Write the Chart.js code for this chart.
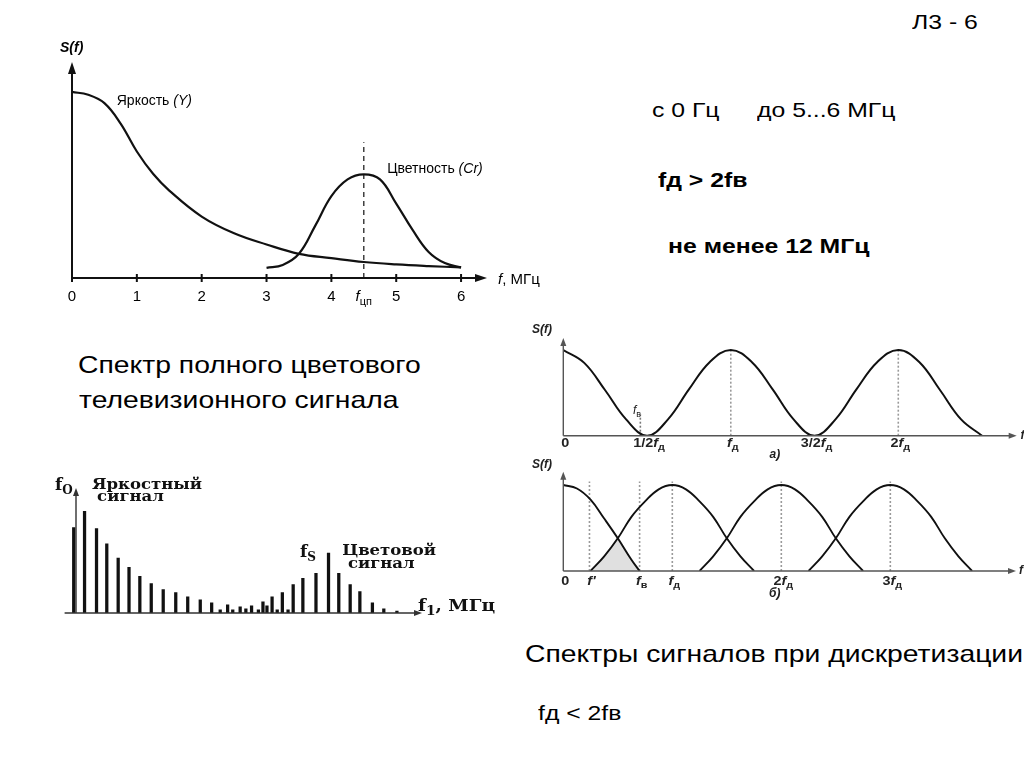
<!DOCTYPE html>
<html>
<head>
<meta charset="utf-8">
<script src="https://cdn.jsdelivr.net/npm/chart.js@4.4.0/dist/chart.umd.min.js"></script>
<style>
  body { margin: 0; width: 1024px; height: 768px; background: #fff; position: relative; overflow: hidden;
         font-family: "Liberation Sans", Arial, sans-serif; }
  canvas { position: absolute; }
  .t { position: absolute; white-space: nowrap; color: #000; line-height: 1; transform-origin: 0 0; transform: scaleX(1.18); }
  .b { font-weight: bold; }
</style>
</head>
<body>
<div class="t" style="left:912px;top:11px;font-size:21px">Л3 - 6</div>
<div class="t" style="left:652px;top:99px;font-size:21px">с 0 Гц</div>
<div class="t" style="left:757px;top:99px;font-size:21px">до 5...6 МГц</div>
<div class="t b" style="left:658px;top:169px;font-size:21px">fд &gt; 2fв</div>
<div class="t b" style="left:668px;top:235px;font-size:21px">не менее 12 МГц</div>
<div class="t" style="left:78px;top:353px;font-size:24px">Спектр полного цветового</div>
<div class="t" style="left:79px;top:388px;font-size:24px">телевизионного сигнала</div>
<div class="t" style="left:525px;top:642px;font-size:24px">Спектры сигналов при дискретизации</div>
<div class="t" style="left:538px;top:702px;font-size:21px">fд &lt; 2fв</div>

<canvas id="spec" width="540" height="330" style="left:0;top:0"></canvas>
<canvas id="lines" width="540" height="200" style="left:0;top:460px"></canvas>
<canvas id="sampA" width="504" height="160" style="left:520px;top:310px"></canvas>
<canvas id="sampB" width="504" height="150" style="left:520px;top:455px"></canvas>

<script>
// Спектр полного цветового ТВ-сигнала, МГц
const specFreq = [0, 0.25, 0.5, 0.75, 1, 1.25, 1.5, 2, 2.5, 3, 3.5, 4, 4.5, 5, 5.5, 6];
const lumaLevel = [1.0, 0.985, 0.94, 0.83, 0.68, 0.56, 0.47, 0.33, 0.24, 0.18, 0.13, 0.107, 0.086, 0.073, 0.064, 0.057];
const chromaFreq = [3, 3.25, 3.5, 3.75, 4, 4.25, 4.5, 4.75, 5, 5.25, 5.5, 5.75, 6];
const chromaLevel = [0.054, 0.07, 0.13, 0.28, 0.44, 0.53, 0.557, 0.53, 0.40, 0.26, 0.14, 0.08, 0.057];
const specTicks = [0, 1, 2, 3, 4, 4.5, 5, 6];
const specTickLabels = ['0', '1', '2', '3', '4', '*f*_цп', '5', '6'];
const subcarrierFreq = 4.5;
const subcarrierTop = 0.73;

// Линейчатый спектр (гармоники строчной частоты)
const lineFreq = [-0.04, 0.15, 0.36, 0.54, 0.74, 0.93, 1.12, 1.32, 1.53, 1.75, 1.96, 2.18, 2.38, 2.53, 2.66, 2.75,
  2.88, 2.98, 3.08, 3.20, 3.28, 3.35, 3.44, 3.53, 3.62, 3.72, 3.81, 3.98, 4.21, 4.43, 4.61, 4.81, 4.98, 5.20, 5.40, 5.63];
const lineAmp = [0.84, 1.0, 0.83, 0.68, 0.54, 0.45, 0.36, 0.29, 0.23, 0.20, 0.16, 0.13, 0.10, 0.03, 0.08, 0.03,
  0.06, 0.04, 0.07, 0.03, 0.11, 0.07, 0.16, 0.03, 0.20, 0.03, 0.28, 0.34, 0.39, 0.59, 0.39, 0.28, 0.21, 0.10, 0.04, 0.02];

// Дискретизация, а) fд > 2fв  (частота в долях fд)
const sampFreqA = [0, 0.125, 0.25, 0.375, 0.5, 0.625, 0.75, 0.875, 1, 1.125, 1.25, 1.375, 1.5, 1.625, 1.75, 1.875, 2, 2.125, 2.25, 2.375, 2.5];
const sampLevelA = [1, 0.85, 0.53, 0.19, 0, 0.19, 0.54, 0.86, 1, 0.86, 0.54, 0.19, 0, 0.19, 0.54, 0.86, 1, 0.86, 0.53, 0.19, 0];
const sampTicksA = [0, 0.5, 1, 1.5, 2];
const sampTickLabelsA = ['0', '1/2*f*_д', '*f*_д', '3/2*f*_д', '2*f*_д'];
const markFreqA = [1, 2];
const cutoffA = 0.46;

// Дискретизация, б) fд < 2fв
const humpFreqB0 = [0, 0.125, 0.25, 0.375, 0.5, 0.625, 0.7];
const humpLevelB0 = [1, 0.96, 0.83, 0.61, 0.38, 0.13, 0];
const humpFreqB1 = [0.25, 0.375, 0.5, 0.625, 0.75, 0.875, 1, 1.125, 1.25, 1.375, 1.5, 1.625, 1.75];
const humpFreqB2 = [1.25, 1.375, 1.5, 1.625, 1.75, 1.875, 2, 2.125, 2.25, 2.375, 2.5, 2.625, 2.75];
const humpFreqB3 = [2.25, 2.375, 2.5, 2.625, 2.75, 2.875, 3, 3.125, 3.25, 3.375, 3.5, 3.625, 3.75];
const humpLevelB = [0, 0.17, 0.38, 0.63, 0.81, 0.95, 1, 0.95, 0.81, 0.63, 0.38, 0.17, 0];
const overlapFreqB = [0.25, 0.375, 0.5, 0.625, 0.7];
const overlapLevelB = [0, 0.17, 0.38, 0.13, 0];
const sampTicksB = [0, 0.24, 0.7, 1, 2, 3];
const sampTickLabelsB = ['0', "*f'*", '*f*_в', '*f*_д', '2*f*_д', '3*f*_д'];
const markFreqB = [0.24, 0.7, 1, 2, 3];

const pts = (xs, ys) => xs.map((v, i) => ({ x: v, y: ys[i] }));
const vline = (v, top) => [{ x: v, y: 0 }, { x: v, y: top }];

// '*' — курсив, '_' — нижний индекс до пробела/запятой
function parseRich(text) {
  const parts = [];
  let it = false, sub = false, buf = '';
  const flush = () => { if (buf) parts.push({ t: buf, it, sub }); buf = ''; };
  for (const ch of text) {
    if (ch === '*') { flush(); it = !it; }
    else if (ch === '_') { flush(); sub = true; }
    else if (sub && (ch === ',' || ch === ' ')) { flush(); sub = false; buf = ch; }
    else buf += ch;
  }
  flush();
  return parts;
}

function drawRich(ctx, text, x, y, f) {
  const parts = parseRich(text);
  const fontOf = (p) => `${p.it || f.italic ? 'italic ' : ''}${f.weight || 'normal'} ${p.sub ? Math.round(f.size * 0.72) : f.size}px ${f.family}`;
  let w = 0;
  parts.forEach((p) => { ctx.font = fontOf(p); p.w = ctx.measureText(p.t).width; w += p.w; });
  let cx = f.align === 'left' ? 0 : -w / 2;
  ctx.save();
  ctx.translate(x, y);
  ctx.scale(f.sx || 1, 1);
  ctx.fillStyle = f.color || '#000';
  ctx.textBaseline = 'middle';
  ctx.textAlign = 'left';
  parts.forEach((p) => { ctx.font = fontOf(p); ctx.fillText(p.t, cx, p.sub ? f.size * 0.3 : 0); cx += p.w; });
  ctx.restore();
}

function arrow(ctx, x, y, dir, len, half) {
  ctx.beginPath();
  if (dir === 'right') { ctx.moveTo(x, y); ctx.lineTo(x - len, y - half); ctx.lineTo(x - len, y + half); }
  else { ctx.moveTo(x, y); ctx.lineTo(x - half, y + len); ctx.lineTo(x + half, y + len); }
  ctx.closePath();
  ctx.fill();
}

// Оси со стрелками, засечки и подписи по шкалам графика
const axesPlugin = {
  id: 'axes',
  afterDatasetsDraw(chart, args, o) {
    const { ctx, scales: { x, y } } = chart;
    const x0 = x.getPixelForValue(0), y0 = y.getPixelForValue(0);
    const xL = x.getPixelForValue(x.min), xR = x.getPixelForValue(x.max), yT = y.getPixelForValue(y.max);
    ctx.save();
    ctx.strokeStyle = o.color; ctx.fillStyle = o.color; ctx.lineWidth = o.width;
    ctx.beginPath();
    ctx.moveTo(xL, y0); ctx.lineTo(xR - o.arrow[0] + 1, y0);
    ctx.moveTo(x0, y0); ctx.lineTo(x0, yT + o.arrow[0] - 1);
    ctx.stroke();
    arrow(ctx, xR, y0, 'right', o.arrow[0], o.arrow[1]);
    arrow(ctx, x0, yT, 'up', o.arrow[0], o.arrow[1]);
    (o.ticks || []).forEach((v, i) => {
      const px = x.getPixelForValue(v);
      if (o.tickLen && Number.isInteger(v)) {
        ctx.beginPath(); ctx.moveTo(px, y0 - o.tickLen); ctx.lineTo(px, y0 + o.tickLen); ctx.stroke();
      }
      if (o.tickLabels) drawRich(ctx, o.tickLabels[i], px + (o.tickShift || 0), y0 + o.tickOffset, o.tickFont);
    });
    (o.labels || []).forEach((l) => drawRich(ctx, l.text, x.getPixelForValue(l.x), y.getPixelForValue(l.y), { ...o.font, ...l }));
    ctx.restore();
  }
};

function makeChart(id, datasets, xr, yr, padding, axes, type) {
  return new Chart(document.getElementById(id), {
    type: type || 'line',
    data: { datasets },
    options: {
      responsive: false,
      animation: false,
      layout: { padding },
      plugins: { legend: { display: false }, tooltip: { enabled: false }, axes },
      elements: { point: { radius: 0 }, line: { tension: 0.4 } },
      scales: {
        x: { type: 'linear', min: xr[0], max: xr[1], display: false, offset: false },
        y: { type: 'linear', min: yr[0], max: yr[1], display: false }
      }
    },
    plugins: [axesPlugin]
  });
}

const sans = '"Liberation Sans", Arial, sans-serif';
const serif = '"DejaVu Serif", "Liberation Serif", serif';
const curve = (data, w, c) => ({ data, borderColor: c || '#111', borderWidth: w, fill: false });
const dotted = (data, c) => ({ data, borderColor: c || '#9a9a9a', borderWidth: 1.6, borderDash: [2, 2], fill: false, tension: 0 });

// 1. Спектр полного цветового сигнала
makeChart('spec', [
  curve(pts(specFreq, lumaLevel), 2.2),
  curve(pts(chromaFreq, chromaLevel), 2.2),
  { data: vline(subcarrierFreq, subcarrierTop), borderColor: '#222', borderWidth: 1.3, borderDash: [5, 4], tension: 0 }
], [0, 6.4], [0, 1.161], { left: 72, right: 53, top: 62, bottom: 52 }, {
  color: '#111', width: 2, arrow: [12, 4], ticks: specTicks, tickLabels: specTickLabels, tickLen: 4, tickOffset: 19,
  tickFont: { size: 15, family: sans },
  font: { size: 14, family: sans, align: 'left' },
  labels: [
    { x: -0.185, y: 1.235, text: '*S(f)*', weight: 'bold' },
    { x: 6.57, y: -0.011, text: '*f*, МГц', size: 15 },
    { x: 0.69, y: 0.953, text: 'Яркость *(Y)*' },
    { x: 4.86, y: 0.584, text: 'Цветность *(Cr)*' }
  ]
});

// 2. Линейчатый спектр
makeChart('lines', [
  { type: 'bar', data: pts(lineFreq, lineAmp), backgroundColor: '#111', barThickness: 2.6 }
], [-0.2, 6.07], [0, 1.23], { left: 64.6, right: 118, top: 28, bottom: 47 }, {
  color: '#333', width: 1.4, arrow: [8, 3],
  font: { size: 15, family: serif, weight: 'bold', align: 'left', color: '#111', sx: 1.1 },
  labels: [
    { x: -0.37, y: 1.25, text: 'f_O', size: 17, sx: 1 },
    { x: 0.28, y: 1.26, text: 'Яркостный' },
    { x: 0.37, y: 1.14, text: 'сигнал' },
    { x: 3.93, y: 0.59, text: 'f_S', size: 17, sx: 1 },
    { x: 4.67, y: 0.61, text: 'Цветовой' },
    { x: 4.77, y: 0.48, text: 'сигнал' },
    { x: 6.0, y: 0.06, text: 'f_1, МГц', size: 16, sx: 1.15 }
  ]
}, 'bar');

// 3. Спектр при fд > 2fв
makeChart('sampA', [
  curve(pts(sampFreqA, sampLevelA), 2),
  ...markFreqA.map((v) => dotted(vline(v, 1))),
  dotted(vline(cutoffA, 0.25), '#777')
], [0, 2.707], [0, 1.14], { left: 43.3, right: 7.3, top: 28, bottom: 34.3 }, {
  color: '#555', width: 1.4, arrow: [8, 3], ticks: sampTicksA, tickLabels: sampTickLabelsA, tickOffset: 8, tickShift: 2,
  tickFont: { size: 12, family: sans, weight: 'bold', sx: 1.2, color: '#222' },
  font: { size: 12, family: sans, weight: 'bold', align: 'left', color: '#222' },
  labels: [
    { x: -0.187, y: 1.233, text: '*S(f)*' },
    { x: 0.416, y: 0.29, text: '*f*_в', weight: 'normal' },
    { x: 1.263, y: -0.225, text: '*a)*', align: 'center' },
    { x: 2.73, y: 0, text: '*f*' }
  ]
});

// 4. Спектр при fд < 2fв
makeChart('sampB', [
  { data: pts(overlapFreqB, overlapLevelB), borderWidth: 0, backgroundColor: 'rgba(0,0,0,0.12)', fill: 'origin', tension: 0 },
  curve(pts(humpFreqB0, humpLevelB0), 1.9),
  curve(pts(humpFreqB1, humpLevelB), 1.9),
  curve(pts(humpFreqB2, humpLevelB), 1.9),
  curve(pts(humpFreqB3, humpLevelB), 1.9),
  ...markFreqB.map((v) => dotted(vline(v, 1.04)))
], [0, 4.153], [0, 1.155], { left: 43.3, right: 8, top: 16.7, bottom: 34 }, {
  color: '#555', width: 1.4, arrow: [8, 3], ticks: sampTicksB, tickLabels: sampTickLabelsB, tickOffset: 11, tickShift: 2,
  tickFont: { size: 12, family: sans, weight: 'bold', sx: 1.2, color: '#222' },
  font: { size: 12, family: sans, weight: 'bold', align: 'left', color: '#222' },
  labels: [
    { x: -0.287, y: 1.233, text: '*S(f)*' },
    { x: 1.94, y: -0.267, text: '*б)*', align: 'center' },
    { x: 4.18, y: 0, text: '*f*' }
  ]
});
</script>
</body>
</html>
